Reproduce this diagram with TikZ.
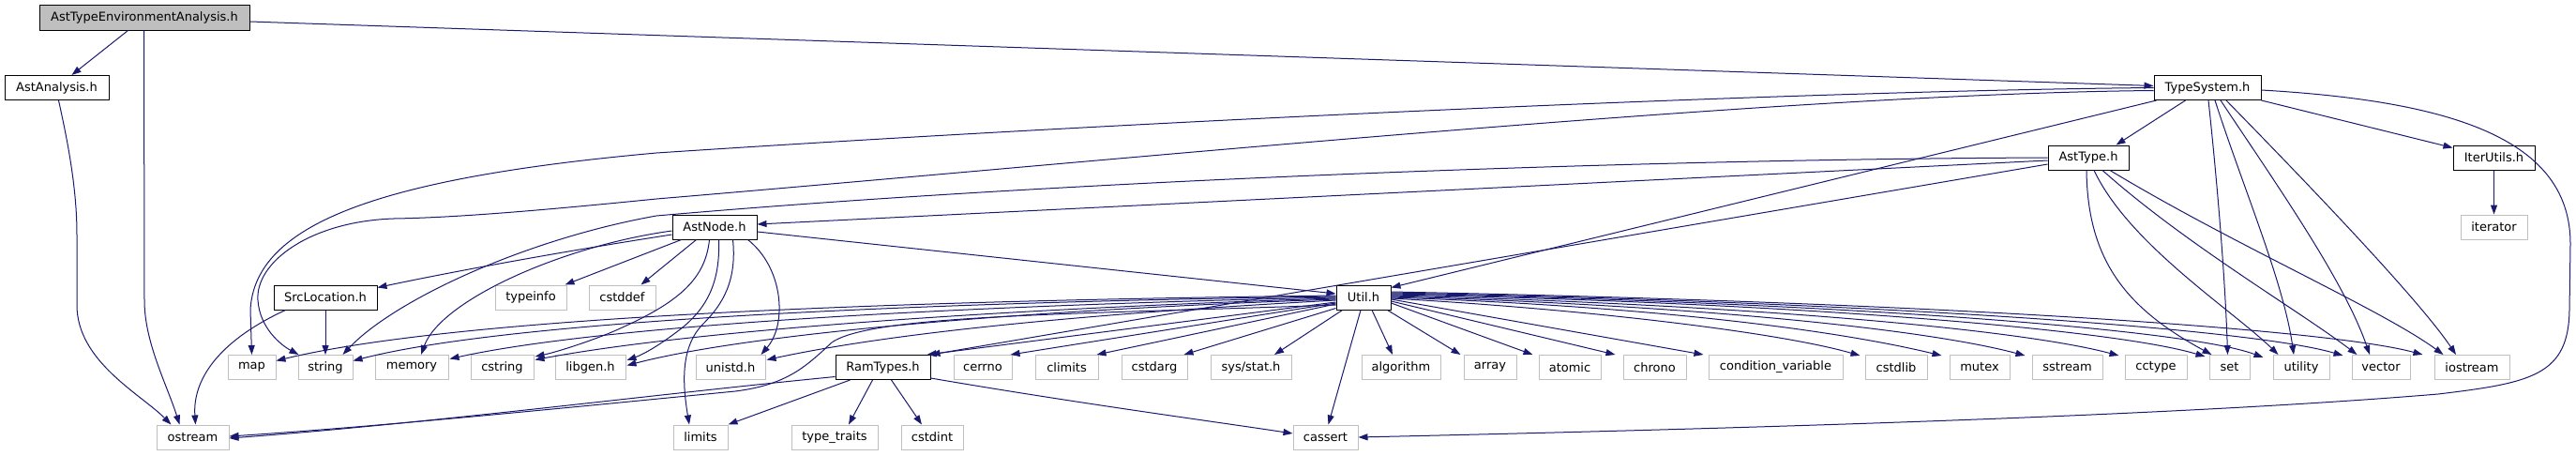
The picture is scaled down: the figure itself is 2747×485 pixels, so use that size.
\documentclass[tikz,border=0pt]{standalone}
\usepackage{fontspec}
\setmainfont{DejaVu Sans}
\usetikzlibrary{arrows.meta,calc}
\definecolor{edgec}{HTML}{191970}
\definecolor{sysc}{HTML}{BFBFBF}
\definecolor{rootf}{HTML}{BFBFBF}
\begin{document}
\begin{tikzpicture}[x=1pt,y=-1pt,font=\fontsize{13pt}{15pt}\selectfont,
  hdr/.style={draw=black,fill=white,line width=1pt,inner sep=0pt,minimum height=26pt},
  sys/.style={hdr,draw=sysc},
  rootbox/.style={hdr,fill=rootf,minimum height=27pt},
  dep/.style={draw=edgec,line width=1pt,-{Triangle[length=10pt,width=7pt]}}]
\useasboundingbox (0,0) rectangle (2747,485);
% rank 0-4
\node[rootbox,minimum width=224pt] (root) at (154,18.5) {AstTypeEnvironmentAnalysis.h};
\node[hdr,minimum width=111pt] (aa) at (60.5,93.5) {AstAnalysis.h};
\node[hdr,minimum width=114pt] (ts) at (2354,93.5) {TypeSystem.h};
\node[hdr,minimum width=86pt] (astt) at (2227,168) {AstType.h};
\node[hdr,minimum width=87pt] (iu) at (2659.5,168) {IterUtils.h};
\node[sys,minimum width=71pt] (itr) at (2659.5,242) {iterator};
\node[hdr,minimum width=90pt] (an) at (762,242) {AstNode.h};
\node[hdr,minimum width=110pt] (sl) at (347,317) {SrcLocation.h};
\node[hdr,minimum width=58pt] (ut) at (1454,317) {Util.h};
\node[sys,minimum width=76pt] (ti) at (566,317) {typeinfo};
\node[sys,minimum width=71pt] (cd) at (663.5,317) {cstddef};
% rank 5
\node[sys,minimum width=51pt] (nmap) at (268.5,391.5) {map};
\node[sys,minimum width=58pt] (str) at (347,391.5) {string};
\node[sys,minimum width=78pt] (mem) at (439,391.5) {memory};
\node[sys,minimum width=67pt] (cstr) at (535.5,391.5) {cstring};
\node[sys,minimum width=75pt] (lg) at (629.5,391.5) {libgen.h};
\node[sys,minimum width=74pt] (un) at (779,391.5) {unistd.h};
\node[hdr,minimum width=101pt] (rt) at (941.5,391.5) {RamTypes.h};
\node[sys,minimum width=62pt] (cer) at (1048,391.5) {cerrno};
\node[sys,minimum width=67pt] (clim) at (1137.5,391.5) {climits};
\node[sys,minimum width=70pt] (carg) at (1231,391.5) {cstdarg};
\node[sys,minimum width=86pt] (sst) at (1334,391.5) {sys/stat.h};
\node[sys,minimum width=84pt] (alg) at (1494,391.5) {algorithm};
\node[sys,minimum width=56pt] (arr) at (1589,391.5) {array};
\node[sys,minimum width=66pt] (atm) at (1674,391.5) {atomic};
\node[sys,minimum width=67pt] (chr) at (1764.5,391.5) {chrono};
\node[sys,minimum width=143pt] (cv) at (1893.5,391.5) {condition\_variable};
\node[sys,minimum width=66pt] (cstl) at (2022,391.5) {cstdlib};
\node[sys,minimum width=64pt] (mtx) at (2111,391.5) {mutex};
\node[sys,minimum width=75pt] (ss) at (2204.5,391.5) {sstream};
\node[sys,minimum width=66pt] (cct) at (2299,391.5) {cctype};
\node[sys,minimum width=43pt] (nset) at (2377.5,391.5) {set};
\node[sys,minimum width=60pt] (utl) at (2454,391.5) {utility};
\node[sys,minimum width=62pt] (vec) at (2539,391.5) {vector};
\node[sys,minimum width=80pt] (ios) at (2636,391.5) {iostream};
% rank 6
\node[sys,minimum width=77pt] (os) at (205.5,466) {ostream};
\node[sys,minimum width=58pt] (lim) at (747,466) {limits};
\node[sys,minimum width=92pt] (tt) at (890,466) {type\_traits};
\node[sys,minimum width=66pt] (ci) at (994,466) {cstdint};
\node[sys,minimum width=69pt] (cas) at (1413.5,466) {cassert};

% root
\draw[dep] ($(root.south west)+(95,0)$) -- ($(aa.north west)+(72,0)$);
\draw[dep] ($(root.east)+(0,4.5)$) -- ($(ts.west)+(0,-2)$);
\draw[dep] ($(root.south west)+(112,0)$) -- (154,320) .. controls (154,365) and (178,410) .. ($(os.north west)+(25,0)$);
\draw[dep] ($(aa.south west)+(58,0)$) .. controls (72,150) and (82,200) .. (82,250) -- (82,325) .. controls (82,385) and (150,420) .. ($(os.north west)+(16,0)$);
% TypeSystem
\draw[dep] ($(ts.south west)+(34,0)$) -- ($(astt.north west)+(73,0)$);
\draw[dep] (ts.south east) -- ($(iu.north west)+(0,3)$);
\draw[dep] ($(ts.south west)+(3,0)$) -- ($(ut.north east)+(0,3)$);
\draw[dep] (ts.west) .. controls (1900,97) and (1200,130) .. (700,163) .. controls (400,190) and (272,240) .. (267,330) -- (nmap.north);
\draw[dep] ($(ts.west)+(0,3)$) .. controls (1900,100) and (1200,170) .. (700,212) .. controls (560,226) and (480,232) .. (420,233) .. controls (330,236) and (272,280) .. (275,320) .. controls (277,350) and (300,368) .. ($(str.north west)+(1,0)$);
\draw[dep] ($(ts.south)+(1,0)$) .. controls (2365,200) and (2373,300) .. ($(nset.north)+(-2,0)$);
\draw[dep] ($(ts.south)+(8,0)$) .. controls (2392,200) and (2435,300) .. ($(utl.north)+(-8,0)$);
\draw[dep] ($(ts.south)+(14,0)$) .. controls (2430,200) and (2500,300) .. ($(vec.north)+(-12,0)$);
\draw[dep] ($(ts.south)+(20,0)$) .. controls (2465,200) and (2580,320) .. ($(ios.north)+(-17,0)$);
\draw[dep] ($(ts.east)+(0,2.5)$) .. controls (2620,108) and (2741,150) .. (2741,260) -- (2740,330) .. controls (2739,400) and (2700,408) .. (2600,420) .. controls (2300,445) and (1800,458) .. (cas.east);
\draw[dep] (iu.south) -- (itr.north);
% AstType
\draw[dep] ($(astt.west)+(0,3)$) -- ($(an.east)+(0,-3)$);
\draw[dep] (astt.west) .. controls (1700,170) and (1100,195) .. (700,230) .. controls (560,255) and (420,320) .. ($(str.north east)+(-11,0)$);
\draw[dep] ($(astt.west)+(0,7)$) -- (rt.north east);
\draw[dep] ($(astt.south)+(-2,0)$) .. controls (2226,280) and (2270,330) .. ($(nset.north west)+(3,0)$);
\draw[dep] ($(astt.south)+(6,0)$) .. controls (2270,260) and (2380,330) .. ($(utl.north west)+(6,0)$);
\draw[dep] ($(astt.south)+(15,0)$) .. controls (2330,260) and (2450,330) .. ($(vec.north west)+(6,0)$);
\draw[dep] ($(astt.south)+(23,0)$) .. controls (2380,260) and (2540,330) .. ($(ios.north west)+(10,0)$);
% AstNode
\draw[dep] ($(an.west)+(0,8)$) .. controls (600,268) and (480,290) .. ($(sl.north east)+(0,3)$);
\draw[dep] ($(an.west)+(0,4)$) .. controls (600,262) and (470,320) .. ($(mem.north)+(10,0)$);
\draw[dep] ($(an.south west)+(10,0)$) -- ($(ti.north east)+(-2,0)$);
\draw[dep] ($(an.south west)+(26,0)$) -- ($(cd.north east)+(-16,0)$);
\draw[dep] ($(an.south west)+(40,0)$) .. controls (752,300) and (720,325) .. (650,355) .. controls (620,367) and (590,376) .. ($(cstr.north east)+(1,2)$);
\draw[dep] ($(an.south west)+(50,0)$) .. controls (768,300) and (755,330) .. (720,355) .. controls (700,370) and (685,378) .. ($(lg.north east)+(1,6)$);
\draw[dep] ($(an.south west)+(65,0)$) .. controls (786,300) and (770,325) .. (750,345) .. controls (725,370) and (728,410) .. ($(lim.north)+(-12,0)$);
\draw[dep] ($(an.south east)+(-10,0)$) .. controls (835,285) and (840,345) .. ($(un.north east)+(-5,0)$);
\draw[dep] ($(an.east)+(0,5)$) -- ($(ut.west)+(0,-4)$);
% SrcLocation
\draw[dep] (sl.south) -- (str.north);
\draw[dep] ($(sl.south west)+(13,0)$) .. controls (240,360) and (205,400) .. ($(os.north)+(3,0)$);
% Util, to the left
\draw[dep] ($(ut.west)+(0,-2)$) .. controls (1000,320) and (500,335) .. ($(nmap.east)+(0,-7)$);
\draw[dep] ($(ut.west)+(0,-1)$) .. controls (1000,322) and (550,340) .. ($(str.east)+(0,-7)$);
\draw[dep] (ut.west) .. controls (1050,325) and (650,345) .. ($(mem.east)+(1,-9)$);
\draw[dep] ($(ut.west)+(0,1)$) .. controls (1100,328) and (750,350) .. ($(cstr.east)+(1,-8)$);
\draw[dep] ($(ut.west)+(0,2)$) .. controls (1100,330) and (800,355) .. ($(lg.east)+(1,-2)$);
\draw[dep] ($(ut.west)+(0,3)$) .. controls (1150,335) and (950,355) .. ($(un.east)+(1,-8)$);
\draw[dep] ($(ut.west)+(0,5)$) -- ($(rt.north east)+(-4,0)$);
\draw[dep] ($(ut.west)+(0,6)$) -- ($(cer.north east)+(-2,0)$);
\draw[dep] ($(ut.west)+(0,7)$) -- ($(clim.north east)+(-2,0)$);
\draw[dep] ($(ut.south west)+(0,-2)$) -- ($(carg.north east)+(-4,0)$);
\draw[dep] ($(ut.south west)+(7,0)$) -- ($(sst.north)+(25,0)$);
\draw[dep] ($(ut.west)+(0,8)$) .. controls (1150,335) and (930,335) .. (887,365) .. controls (860,390) and (840,410) .. (784,417) .. controls (600,435) and (400,455) .. ($(os.east)+(0,-1)$);
% Util, downwards and to the right
\draw[dep] ($(ut.south)+(-3,0)$) -- ($(cas.north)+(3,0)$);
\draw[dep] ($(ut.south)+(9,0)$) -- ($(alg.north)+(-9,0)$);
\draw[dep] ($(ut.south east)+(-4,0)$) -- ($(arr.north west)+(-3,0)$);
\draw[dep] ($(ut.east)+(0,6)$) -- ($(atm.north west)+(-6,0)$);
\draw[dep] ($(ut.east)+(0,4)$) -- ($(chr.north west)+(-8,0)$);
\draw[dep] ($(ut.east)+(0,2)$) -- ($(cv.north west)+(-5,0)$);
\draw[dep] ($(ut.east)+(0,1)$) .. controls (1700,330) and (1900,355) .. ($(cstl.north west)+(-5,1)$);
\draw[dep] (ut.east) .. controls (1750,326) and (1950,350) .. ($(mtx.north west)+(-8,1)$);
\draw[dep] ($(ut.east)+(0,-1)$) .. controls (1800,325) and (2050,350) .. ($(ss.north west)+(-7,1)$);
\draw[dep] ($(ut.east)+(0,-2)$) .. controls (1850,324) and (2150,350) .. ($(cct.north west)+(-6,1)$);
\draw[dep] ($(ut.east)+(0,-3)$) .. controls (1900,322) and (2250,350) .. ($(nset.north west)+(-4,2)$);
\draw[dep] ($(ut.east)+(0,-4)$) .. controls (1950,322) and (2330,350) .. ($(utl.north west)+(-10,3)$);
\draw[dep] ($(ut.east)+(0,-5)$) .. controls (2000,322) and (2400,350) .. ($(vec.north west)+(-9,1)$);
\draw[dep] ($(ut.east)+(0,-6)$) .. controls (2050,322) and (2480,350) .. ($(ios.north west)+(-12,0)$);
% RamTypes
\draw[dep] ($(rt.west)+(0,10)$) .. controls (700,420) and (450,452) .. ($(os.east)+(0,1)$);
\draw[dep] ($(rt.south west)+(16,0)$) -- (lim.north east);
\draw[dep] ($(rt.south west)+(40,0)$) -- ($(tt.north)+(15,0)$);
\draw[dep] ($(rt.south west)+(60,0)$) -- ($(ci.north)+(-11,0)$);
\draw[dep] ($(rt.south east)+(0,-2)$) .. controls (1150,430) and (1300,450) .. ($(cas.west)+(0,-4)$);
\end{tikzpicture}
\end{document}
